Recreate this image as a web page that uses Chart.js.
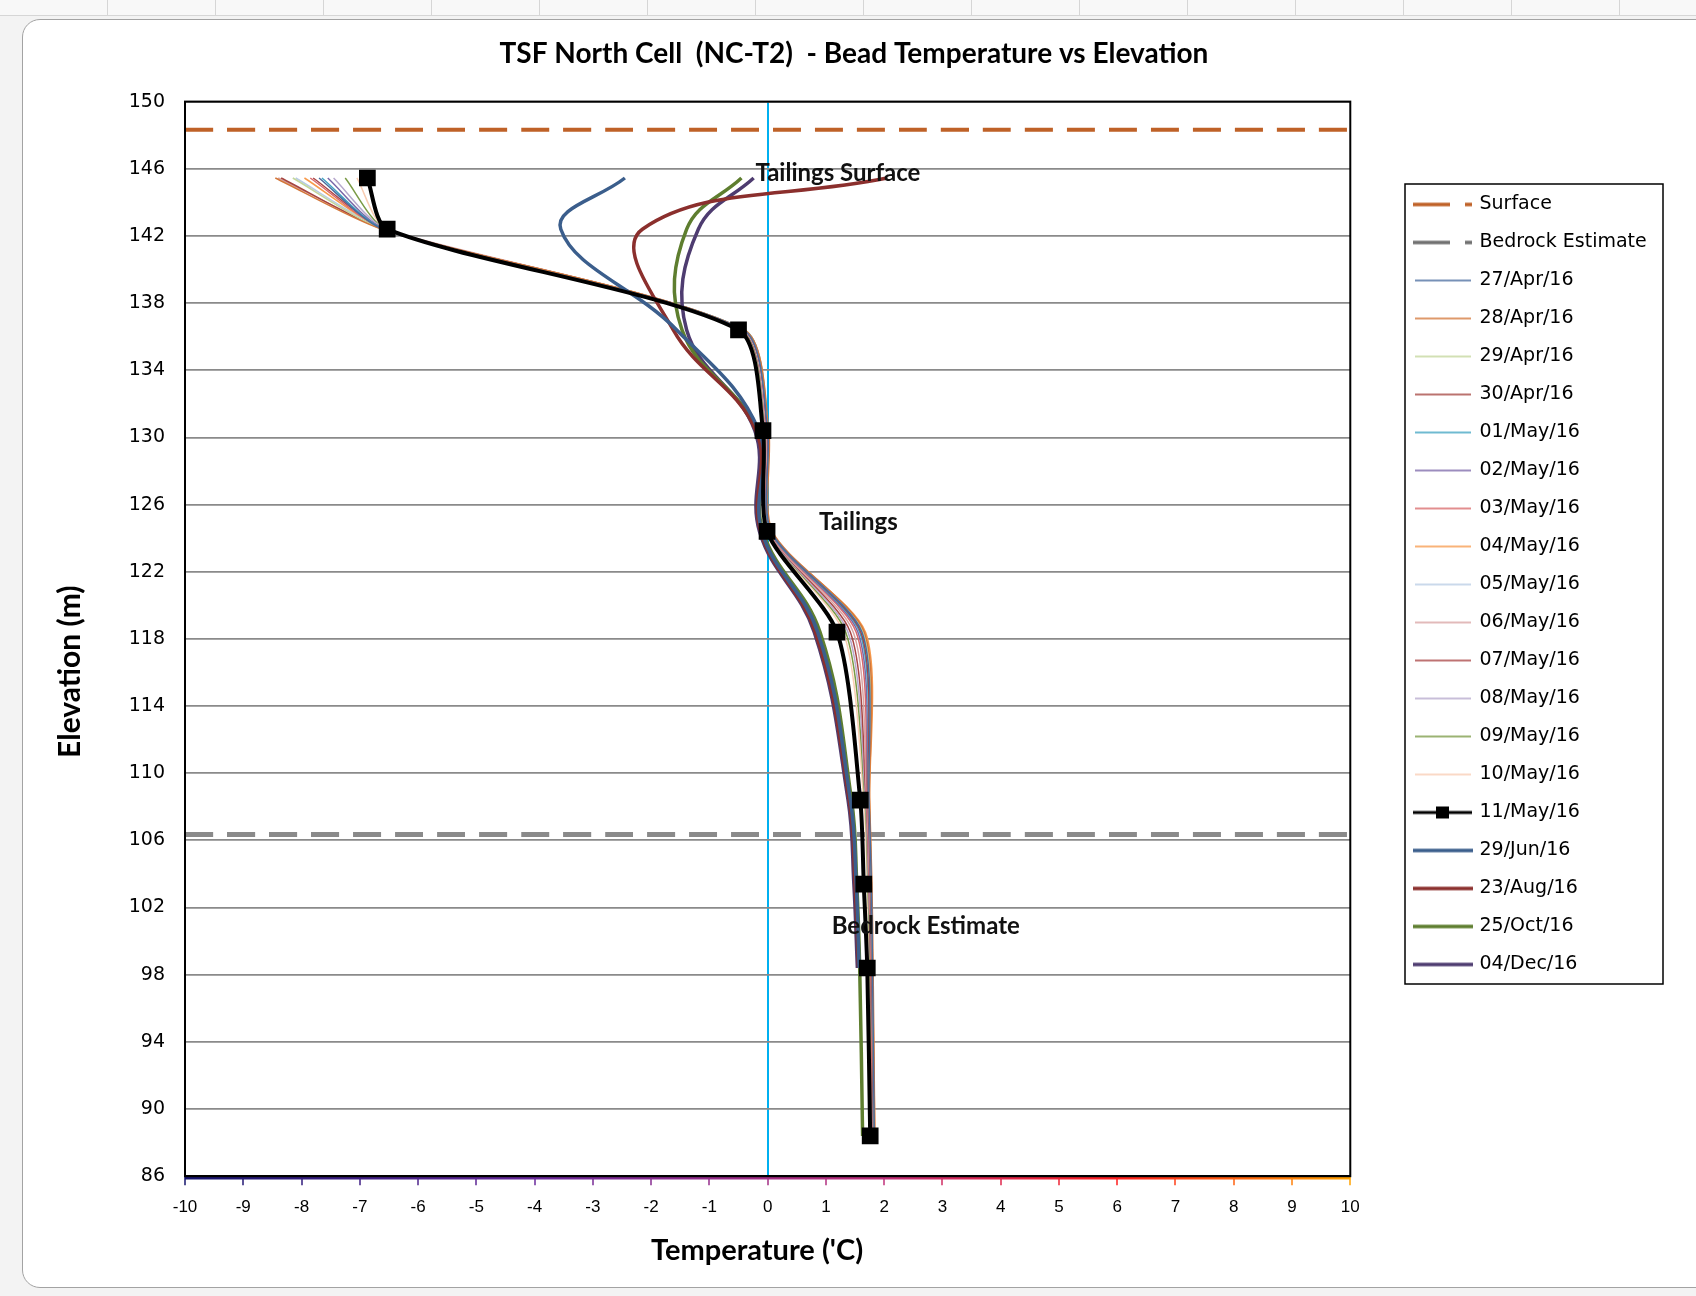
<!DOCTYPE html>
<html lang="en">
<head>
<meta charset="utf-8">
<title>TSF North Cell (NC-T2) - Bead Temperature vs Elevation</title>
<script src="https://cdn.jsdelivr.net/npm/chart.js@4.4.1/dist/chart.umd.min.js"></script>
<style>
  html, body { margin: 0; padding: 0; }
  body { width: 1696px; height: 1296px; position: relative; overflow: hidden; background: #f3f3f3; }
  .sheet-strip {
    position: absolute; left: 0; top: 0; width: 1696px; height: 15px;
    background: repeating-linear-gradient(90deg, #f8f8f8 0px, #f8f8f8 107px, #d6d6d6 107px, #d6d6d6 108px);
    border-bottom: 1px solid #d6d6d6;
  }
  .frame {
    position: absolute; left: 22px; top: 19px; width: 1720px; height: 1267px;
    background: #fff; border: 1px solid #a3a3a3; border-radius: 18px;
  }
  canvas { position: absolute; left: 0; top: 0; }
</style>
</head>
<body>
<div class="sheet-strip"></div>
<div class="frame"></div>
<canvas id="tempChart" width="1696" height="1296"></canvas>
<script>
// 测温珠高程 (m)
const beadElev = [145.45, 142.4, 136.4, 130.4, 124.4, 118.4, 108.4, 103.4, 98.4, 88.4];

// 参考线高程
const surfaceElev = 148.33;
const bedrockElev = 106.35;
const tempRange = [-10, 10];

// 坐标轴
const yMin = 86;
const yMax = 150;
const yStep = 4;
const xStep = 1;

// 每日读数 (°C)，顺序与 beadElev 对应
const t27Apr = [-7.70, -6.60, -0.42, 0.00, 0.06, 1.62, 1.74, 1.78, 1.80, 1.83];
const t28Apr = [-8.45, -6.62, -0.40, 0.02, 0.08, 1.66, 1.75, 1.79, 1.81, 1.84];
const t29Apr = [-8.15, -6.61, -0.41, 0.01, 0.07, 1.64, 1.74, 1.78, 1.80, 1.83];
const t30Apr = [-8.35, -6.60, -0.42, 0.00, 0.06, 1.60, 1.73, 1.77, 1.79, 1.82];
const t01May = [-7.65, -6.59, -0.40, 0.01, 0.05, 1.58, 1.73, 1.77, 1.79, 1.82];
const t02May = [-7.55, -6.58, -0.41, 0.00, 0.05, 1.55, 1.72, 1.76, 1.79, 1.82];
const t03May = [-7.85, -6.58, -0.42, -0.01, 0.04, 1.52, 1.71, 1.76, 1.78, 1.81];
const t04May = [-7.95, -6.57, -0.42, 0.00, 0.05, 1.68, 1.75, 1.78, 1.80, 1.84];
const t05May = [-8.10, -6.57, -0.43, -0.01, 0.04, 1.64, 1.73, 1.77, 1.79, 1.82];
const t06May = [-8.40, -6.56, -0.43, -0.02, 0.03, 1.47, 1.70, 1.75, 1.78, 1.81];
const t07May = [-7.80, -6.56, -0.44, -0.02, 0.03, 1.42, 1.69, 1.74, 1.77, 1.80];
const t08May = [-7.45, -6.55, -0.44, -0.03, 0.02, 1.38, 1.68, 1.73, 1.77, 1.80];
const t09May = [-7.25, -6.55, -0.45, -0.04, 0.02, 1.34, 1.67, 1.72, 1.76, 1.79];
const t10May = [-7.05, -6.54, -0.46, -0.05, 0.01, 1.30, 1.65, 1.71, 1.75, 1.78];
const t11May = [-6.87, -6.53, -0.50, -0.08, -0.01, 1.19, 1.59, 1.65, 1.71, 1.76];

// 后续读数
const t29Jun = [-2.45, -3.55, -1.56, -0.15, -0.10, 0.86, 1.42, 1.52, 1.57];
const t23Aug = [2.05, -2.15, -1.62, -0.20, -0.12, 0.82, 1.40, 1.50, 1.56];
const t25Oct = [-0.45, -1.39, -1.47, -0.18, -0.08, 0.90, 1.44, 1.53, 1.58, 1.63];
const t04Dec = [-0.24, -1.19, -1.39, -0.22, -0.14, 0.80, 1.38, 1.48, 1.54];

const dailyLabels = ['27/Apr/16', '28/Apr/16', '29/Apr/16', '30/Apr/16', '01/May/16', '02/May/16', '03/May/16',
  '04/May/16', '05/May/16', '06/May/16', '07/May/16', '08/May/16', '09/May/16', '10/May/16'];
const dailyTemps = [t27Apr, t28Apr, t29Apr, t30Apr, t01May, t02May, t03May,
  t04May, t05May, t06May, t07May, t08May, t09May, t10May];
const dailyColors = ['#4a6c9f', '#d3773a', '#c3d69b', '#a5443f', '#3fa3c2', '#7b67a8', '#d9686a',
  '#f79a4c', '#b8cce4', '#d8a3a3', '#a84545', '#b6a8cc', '#7a9a45', '#f9cdb3'];

const laterLabels = ['29/Jun/16', '23/Aug/16', '25/Oct/16', '04/Dec/16'];
const laterTemps = [t29Jun, t23Aug, t25Oct, t04Dec];
const laterColors = ['#3b5e8c', '#8b2f2d', '#5e7e2f', '#4e3c70'];

// 图内文字标注
const noteTexts = ['Tailings Surface', 'Tailings', 'Bedrock Estimate'];
const noteTemps = [-0.21, 0.88, 1.1];
const noteElevs = [145.76, 124.96, 100.88];

// 底部坐标轴渐变色
const axisStops = [[0, '#15146c'], [0.3, '#6a2a9c'], [0.6, '#c0307a'], [0.8, '#ff1e1e'], [1, '#ffa200']];

function toPoints(temps) {
  return temps.map((t, i) => ({ x: t, y: beadElev[i] }));
}

function flatLine(elev) {
  return tempRange.map(t => ({ x: t, y: elev }));
}

function hexToRgb(hex) {
  const n = parseInt(hex.slice(1), 16);
  return [(n >> 16) & 255, (n >> 8) & 255, n & 255];
}

function axisColorAt(f) {
  for (let i = 1; i < axisStops.length; i++) {
    const [p0, c0] = axisStops[i - 1];
    const [p1, c1] = axisStops[i];
    if (f <= p1) {
      const k = (f - p0) / (p1 - p0);
      const a = hexToRgb(c0), b = hexToRgb(c1);
      const mix = a.map((v, j) => Math.round(v + (b[j] - v) * k));
      return `rgb(${mix.join(',')})`;
    }
  }
  return axisStops[axisStops.length - 1][1];
}

function axisGradient(ctx) {
  const area = ctx.chart.chartArea;
  if (!area) return axisStops[0][1];
  const g = ctx.chart.ctx.createLinearGradient(area.left, 0, area.right, 0);
  axisStops.forEach(([pos, col]) => g.addColorStop(pos, col));
  return g;
}

// 图例符号
function makeSymbol(draw) {
  const c = document.createElement('canvas');
  c.width = 60;
  c.height = 16;
  const g = c.getContext('2d');
  draw(g);
  return c;
}

function lineSymbol(color, width, x0, x1) {
  return makeSymbol(g => {
    g.strokeStyle = color;
    g.lineWidth = width;
    g.beginPath();
    g.moveTo(x0, 8);
    g.lineTo(x1, 8);
    g.stroke();
  });
}

function dashSymbol(color) {
  return makeSymbol(g => {
    g.strokeStyle = color;
    g.lineWidth = 3.5;
    g.beginPath();
    g.moveTo(0, 8); g.lineTo(37, 8);
    g.moveTo(52, 8); g.lineTo(59, 8);
    g.stroke();
  });
}

function markerSymbol() {
  return makeSymbol(g => {
    g.strokeStyle = '#000';
    g.lineWidth = 3;
    g.beginPath();
    g.moveTo(0, 8); g.lineTo(59, 8);
    g.stroke();
    g.fillStyle = '#000';
    g.fillRect(23, 2, 13, 12);
  });
}

// 数据集
const datasets = [];
const legendSymbols = [];

function addSeries(cfg, symbol) {
  datasets.push(Object.assign({
    showLine: true,
    fill: false,
    tension: 0.4,
    pointRadius: 0,
    pointHoverRadius: 0
  }, cfg));
  legendSymbols.push(symbol);
}

addSeries({ label: 'Surface', data: flatLine(surfaceElev), borderColor: '#bf6127', borderWidth: 4,
  borderDash: [28, 14], order: 3 }, dashSymbol('#bf6127'));
addSeries({ label: 'Bedrock Estimate', data: flatLine(bedrockElev), borderColor: '#8a8a8a', borderWidth: 5,
  borderDash: [28, 14], order: 3 }, dashSymbol('#707070'));

dailyLabels.forEach((label, i) => {
  addSeries({ label, data: toPoints(dailyTemps[i]), borderColor: dailyColors[i], borderWidth: 1.5,
    tension: 0.25, order: 2 }, lineSymbol(dailyColors[i], 1.5, 2, 58));
});

addSeries({ label: '11/May/16', data: toPoints(t11May), borderColor: '#000', backgroundColor: '#000',
  borderWidth: 4, pointRadius: 9, pointStyle: 'rect', tension: 0.25, order: 0 }, markerSymbol());

laterLabels.forEach((label, i) => {
  addSeries({ label, data: toPoints(laterTemps[i]), borderColor: laterColors[i], borderWidth: 3.5, order: 1 },
    lineSymbol(laterColors[i], 3.5, 0, 60));
});

// 底部彩色轴线
addSeries({ label: '', data: flatLine(yMin - 0.1), borderColor: axisGradient, borderWidth: 3, order: 4, clip: false },
  null);

// 自定义绘制：图例位置/边框、绘图区边框、文字标注
const framePlugin = {
  id: 'framePlugin',
  afterLayout(chart) {
    const lg = chart.legend;
    const w = lg.width, h = lg.height;
    lg.left = 1397; lg.right = 1397 + w;
    lg.top = 176; lg.bottom = 176 + h;
    if (chart.titleBlock) {
      chart.titleBlock.left = 92;
      chart.titleBlock.right = 1616;
    }
  },
  afterDatasetsDraw(chart) {
    const { ctx, scales } = chart;
    ctx.save();
    ctx.font = 'bold 24px Lato';
    ctx.fillStyle = '#111';
    ctx.textAlign = 'left';
    ctx.textBaseline = 'middle';
    noteTexts.forEach((text, i) => {
      ctx.fillText(text, scales.x.getPixelForValue(noteTemps[i]), scales.y.getPixelForValue(noteElevs[i]));
    });
    ctx.restore();
  },
  afterDraw(chart) {
    const { ctx, chartArea: a, legend } = chart;
    ctx.save();
    ctx.strokeStyle = '#000';
    ctx.lineWidth = 2;
    ctx.strokeRect(a.left, a.top, a.right - a.left, a.bottom - a.top);
    ctx.lineWidth = 1.5;
    ctx.strokeRect(legend.left + 8, legend.top + 8, 258, 800);
    ctx.restore();
  }
};

Chart.defaults.color = '#000';
Chart.defaults.font.family = "'DejaVu Sans', sans-serif";

const nb = '\u00a0';

new Chart(document.getElementById('tempChart'), {
  type: 'scatter',
  data: { datasets },
  plugins: [framePlugin],
  options: {
    responsive: false,
    animation: false,
    events: [],
    layout: { padding: { left: 45, right: 86, top: 20, bottom: 20 } },
    plugins: {
      title: {
        display: true,
        text: 'TSF North Cell  (NC-T2)  - Bead Temperature vs Elevation',
        color: '#000',
        font: { family: 'Lato', weight: 'bold', size: 28 },
        padding: { top: 17, bottom: 31 }
      },
      legend: {
        display: true,
        position: 'right',
        align: 'start',
        labels: {
          usePointStyle: true,
          pointStyleWidth: 54,
          padding: 19,
          color: '#000',
          font: { family: "'DejaVu Sans', sans-serif", size: 19 },
          filter: item => item.text !== '',
          sort: (a, b) => a.datasetIndex - b.datasetIndex,
          generateLabels(chart) {
            const items = Chart.defaults.plugins.legend.labels.generateLabels(chart);
            items.forEach(item => {
              item.pointStyle = legendSymbols[item.datasetIndex];
              item.lineWidth = 0;
            });
            return items;
          }
        }
      },
      tooltip: { enabled: false }
    },
    scales: {
      x: {
        type: 'linear',
        min: tempRange[0],
        max: tempRange[1],
        ticks: {
          stepSize: xStep,
          padding: 12,
          color: '#000',
          font: { family: "'Liberation Sans Narrow', 'Liberation Sans', sans-serif", size: 17 }
        },
        grid: {
          color: ctx => (ctx.tick && ctx.tick.value === 0 ? '#00b0f0' : 'rgba(0,0,0,0)'),
          lineWidth: 2,
          drawTicks: true,
          tickLength: 9,
          tickWidth: 1.5,
          tickColor: ctx => axisColorAt(ctx.index / 20)
        },
        border: { color: '#000', width: 2 },
        title: {
          display: true,
          text: "Temperature ('C)" + nb + nb + nb,
          color: '#000',
          font: { family: 'Lato', weight: 'bold', size: 29 },
          padding: { top: 4, bottom: 7.6 }
        }
      },
      y: {
        type: 'linear',
        min: yMin,
        max: yMax,
        ticks: {
          stepSize: yStep,
          padding: 20,
          color: '#000',
          font: { family: "'DejaVu Sans', sans-serif", size: 19 }
        },
        grid: { color: '#8a8a8a', lineWidth: 1.8, drawTicks: false },
        border: { color: '#000', width: 2 },
        title: {
          display: true,
          text: 'Elevation (m)' + nb.repeat(9),
          color: '#000',
          font: { family: 'Lato', weight: 'bold', size: 30 },
          padding: { top: 7, bottom: 0 }
        },
        afterFit(scale) {
          scale.width = 140;
        }
      }
    }
  }
});
</script>
</body>
</html>
